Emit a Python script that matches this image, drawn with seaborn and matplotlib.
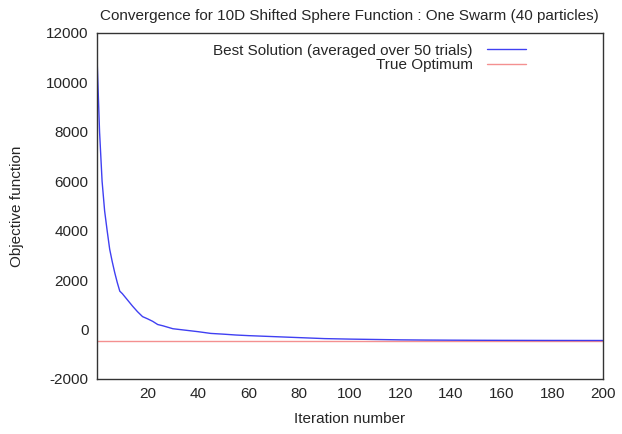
import matplotlib
matplotlib.use("Agg")
import matplotlib.pyplot as plt
import seaborn as sns
import pandas as pd

# iteration numbers and averaged best objective value
iterations = [0, 1, 2, 3, 4, 5, 6, 7, 8, 9, 10, 12, 14, 16, 18, 20, 22, 24, 26, 28, 30,
              35, 40, 45, 50, 55, 60, 70, 80, 90, 100, 110, 120, 130, 140, 150,
              160, 170, 180, 190, 200]
best_solution = [11000, 8000, 6000, 4800, 4000, 3250, 2750, 2300, 1900, 1550, 1450,
                 1200, 950, 720, 520, 430, 330, 200, 150, 90, 30,
                 -30, -90, -160, -190, -225, -250, -290, -330, -370, -390, -405,
                 -420, -428, -433, -437, -440, -442, -444, -445, -446]
true_optimum = -450

y_ticks = [-2000, 0, 2000, 4000, 6000, 8000, 10000, 12000]
x_ticks = [20, 40, 60, 80, 100, 120, 140, 160, 180, 200]

df = pd.DataFrame({"iteration": iterations, "best": best_solution})
opt = pd.DataFrame({"iteration": [0, 200], "opt": [true_optimum, true_optimum]})

sns.set_style("white")
plt.rcParams["font.family"] = ["Liberation Sans", "DejaVu Sans"]
plt.rcParams["axes.unicode_minus"] = False

fig = plt.figure(figsize=(6.22, 4.34), dpi=100)
ax = fig.add_axes([0.156, 0.127, 0.813, 0.797])

sns.lineplot(data=opt, x="iteration", y="opt", ax=ax, color="#f49090", lw=1.0,
             label="True Optimum")
sns.lineplot(data=df, x="iteration", y="best", ax=ax, color="#0000ee", lw=1.0,
             alpha=0.75, label="Best Solution (averaged over 50 trials)")

ax.set_xlim(0, 200)
ax.set_ylim(-2000, 12000)
ax.set_xticks(x_ticks)
ax.set_yticks(y_ticks)
ax.tick_params(length=0, labelsize=11, pad=6)
for s in ax.spines.values():
    s.set_color("#333333")
    s.set_linewidth(1.0)

ax.set_title("Convergence for 10D Shifted Sphere Function : One Swarm (40 particles)",
             fontsize=11, pad=9)
ax.set_xlabel("Iteration number", fontsize=11, labelpad=8)
ax.set_ylabel("Objective function", fontsize=11, labelpad=16)

handles, labels = ax.get_legend_handles_labels()
ax.legend(handles[::-1], labels[::-1], loc="upper right", frameon=False,
          markerfirst=False, fontsize=11, handlelength=2.6, handletextpad=0.9,
          labelspacing=0.05, borderaxespad=0.3, bbox_to_anchor=(0.87, 1.0))

fig.savefig("out.png", dpi=100)
